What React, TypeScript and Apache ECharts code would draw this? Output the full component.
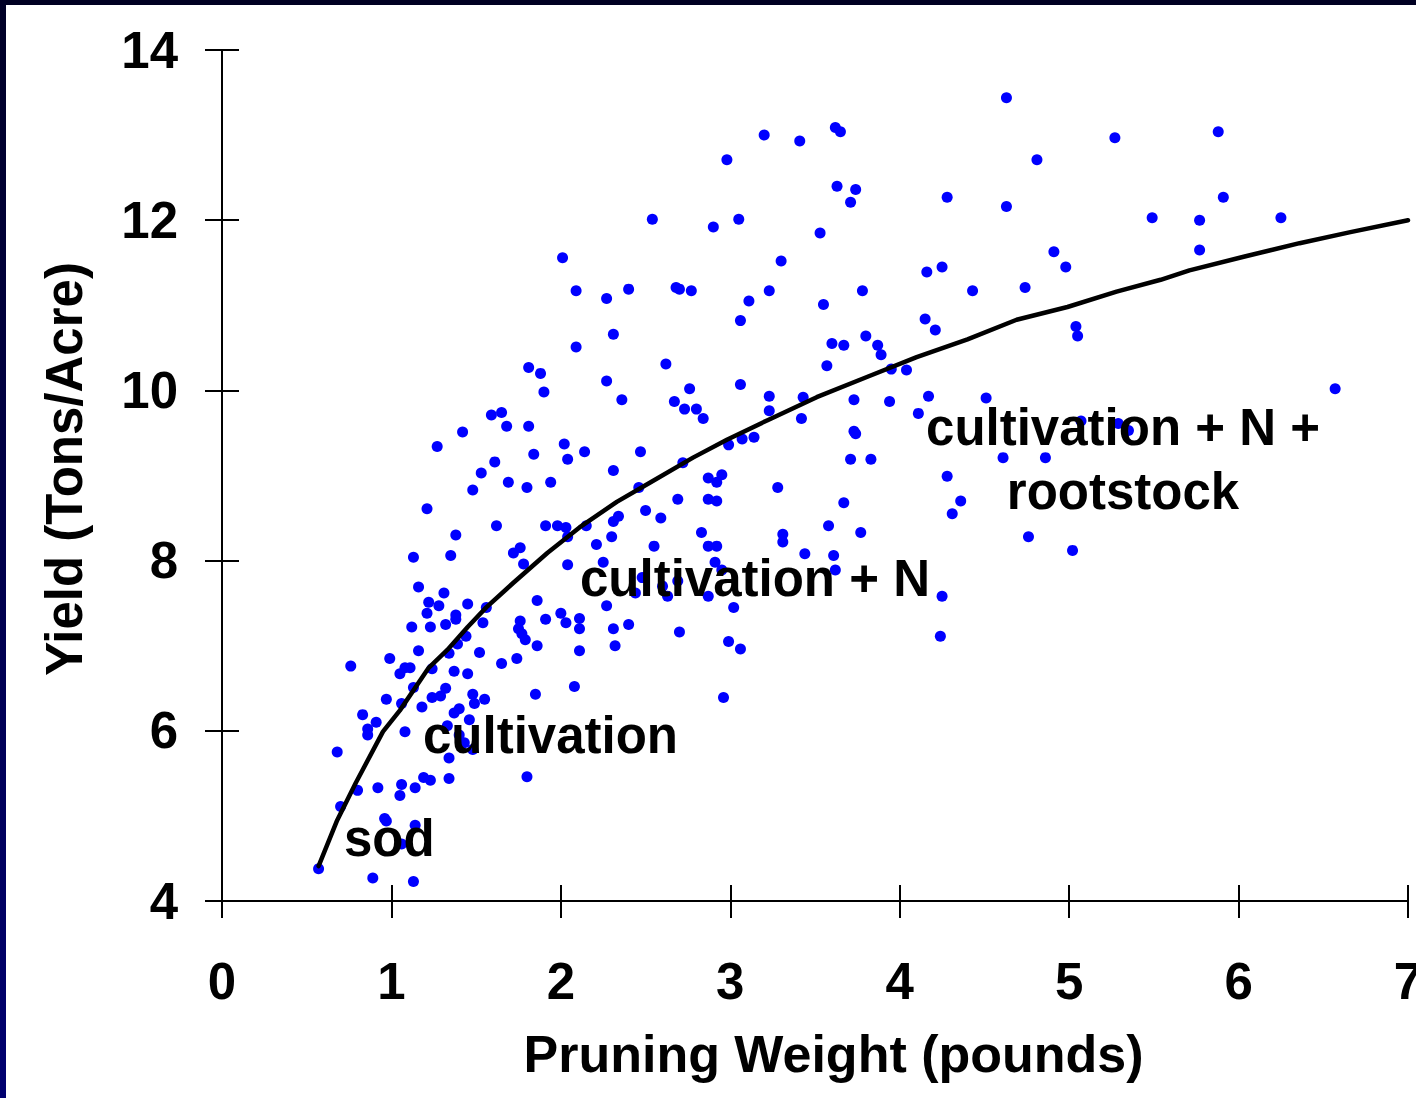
import React, { useEffect, useRef } from "react";
import * as echarts from "echarts";

// Scatter observations (pruning weight in pounds, yield in tons/acre)
const pruningWeight = [
  1.16, 1.31, 1.22, 1.28, 1.21, 1.45, 1.56, 1.38, 1.38, 1.32, 1.23, 1.12, 1.54, 1.86, 1.91, 1.76, 1.75, 1.77, 1.79, 1.86,
  1.44, 1.39, 1.16, 1.34, 1.52, 0.99, 0.76, 1.08, 1.11, 1.05, 1.24, 1.37, 1.45, 1.65, 1.74, 1.13, 1.32, 1.29, 1.24, 0.97,
  1.06, 1.18, 1.48, 1.49, 1.55, 1.85, 0.83, 0.91, 0.86, 0.86, 1.08, 1.40, 1.37, 1.46, 1.33, 1.40, 1.43, 1.48, 0.68, 1.34,
  1.80, 1.19, 1.23, 1.34, 1.06, 1.05, 1.14, 0.92, 0.80, 0.70, 0.96, 0.97, 1.14, 1.06, 0.57, 0.89, 1.13,
  1.90, 1.59, 1.65, 1.68, 1.81, 1.42, 1.27, 1.84, 1.61, 1.53, 1.48, 1.69, 1.80, 1.94, 1.21, 1.62, 1.91, 1.38, 1.13, 1.35,
  1.72, 1.76, 1.78,
  2.54, 2.01, 2.09, 2.27, 2.40, 2.68, 2.70, 2.77, 3.11, 3.06, 2.31, 2.09, 2.62, 1.81, 1.88, 2.27, 2.36, 2.76, 2.67, 2.73,
  2.80, 2.84, 3.06, 2.02, 2.14, 2.04, 2.47, 2.31, 2.72, 2.99, 3.07, 3.14, 2.87, 2.95,
  2.92, 2.46, 2.69, 2.87, 2.92, 2.50, 2.59, 2.34, 2.31, 1.98, 2.03, 2.04, 2.15, 2.30, 2.21, 2.55, 2.83, 2.87, 2.92, 2.04,
  2.25, 2.91, 2.95, 2.48, 2.60, 2.69, 2.44, 2.63, 2.87, 3.02, 2.27, 2.00, 2.03, 2.11, 2.11, 2.31, 2.40, 2.70, 2.32, 2.11,
  2.99, 3.06, 2.08, 2.96,
  3.20, 3.41, 3.62, 3.65, 2.98, 3.63, 3.74, 3.71, 4.28, 2.90, 3.05, 3.53, 3.30, 3.23, 3.55, 3.78, 4.16, 4.25, 4.15, 4.21,
  3.60, 3.67, 3.80, 3.87, 3.89,
  3.57, 3.95, 4.04, 3.23, 3.43, 3.73, 3.94, 4.17, 3.23, 3.42, 4.11, 3.73, 3.74, 3.71, 3.83, 4.28, 4.36, 4.31, 3.28, 3.67,
  3.58, 3.77, 3.31, 3.31, 3.44, 3.61, 3.62, 4.25, 4.24,
  4.63, 5.27, 4.81, 4.63, 5.49, 4.91, 4.98, 4.43, 4.74, 5.04, 5.05,
  4.51, 5.07, 5.29, 5.35, 4.61, 4.86, 4.76, 5.02,
  5.88, 5.91, 5.77, 6.25, 5.77, 6.57,
];

const yieldTons = [
  7.69, 7.62, 7.51, 7.47, 7.38, 7.49, 7.45, 7.36, 7.31, 7.25, 7.22, 7.22, 7.27, 7.53, 7.31, 7.29, 7.20, 7.14, 7.07, 7.00,
  7.11, 7.02, 6.94, 6.91, 6.92, 6.85, 6.76, 6.74, 6.74, 6.67, 6.73, 6.70, 6.67, 6.79, 6.85, 6.51, 6.50, 6.41, 6.39, 6.37,
  6.32, 6.28, 6.43, 6.32, 6.37, 6.43, 6.19, 6.10, 6.02, 5.95, 5.99, 6.26, 6.21, 6.13, 6.06, 5.95, 5.86, 5.78, 5.75, 5.68,
  5.46, 5.45, 5.42, 5.44, 5.37, 5.24, 5.33, 5.33, 5.30, 5.11, 4.97, 4.94, 4.89, 4.67, 4.38, 4.27, 4.23,
  9.98, 9.71, 9.74, 9.58, 9.58, 9.51, 9.34, 9.25, 9.16, 9.03, 8.83, 8.92, 8.86, 8.92, 8.61, 8.41, 8.41, 8.30, 8.04, 8.06,
  8.09, 8.15, 7.96,
  12.01, 11.56, 11.17, 11.08, 11.19, 11.21, 11.19, 11.17, 11.05, 10.82, 10.66, 10.51, 10.31, 10.27, 10.20, 10.11, 9.89,
  10.02, 9.87, 9.78, 9.78, 9.67, 10.07, 9.37, 9.28, 9.19, 9.28, 9.06, 9.15, 9.36, 9.43, 9.45, 8.97, 9.01,
  8.92, 8.86, 8.72, 8.72, 8.70, 8.59, 8.50, 8.52, 8.46, 8.41, 8.39, 8.28, 8.41, 8.28, 8.19, 8.17, 8.33, 8.17, 8.17, 7.95,
  7.98, 7.98, 7.89, 7.80, 7.70, 7.76, 7.62, 7.58, 7.58, 7.45, 7.47, 7.38, 7.27, 7.32, 7.20, 7.20, 7.25, 7.16, 7.00, 6.94,
  7.05, 6.96, 6.52, 6.39,
  13.00, 12.93, 13.09, 13.04, 12.71, 12.40, 12.36, 12.21, 12.27, 11.92, 12.01, 11.85, 11.52, 11.17, 11.01, 11.17, 11.39,
  11.45, 10.84, 10.71, 10.55, 10.53, 10.64, 10.53, 10.42,
  10.29, 10.25, 10.24, 9.93, 9.92, 9.89, 9.87, 9.93, 9.76, 9.67, 9.73, 9.52, 9.49, 9.19, 9.19, 8.99, 8.70, 8.55, 8.86,
  8.68, 8.41, 8.33, 8.31, 8.22, 8.08, 8.06, 7.89, 7.58, 7.11,
  13.44, 12.97, 12.71, 12.16, 12.03, 11.63, 11.45, 11.17, 11.21, 10.75, 10.64,
  9.91, 9.64, 9.61, 9.53, 9.21, 9.21, 8.28, 8.12,
  13.04, 12.27, 12.00, 12.03, 11.65, 10.02,
];

// Fitted curve
const curveWeight = [
  0.57, 0.68, 0.79, 0.95, 1.05, 1.22, 1.33, 1.45, 1.56, 1.72, 1.92, 2.11, 2.33, 2.53, 2.78, 2.98, 3.22, 3.51, 3.81, 4.1,
  4.4, 4.69, 4.99, 5.28, 5.54, 5.71, 6.03, 6.36, 6.66, 7.0,
];
const curveYield = [
  4.41, 4.95, 5.39, 5.99, 6.24, 6.74, 6.95, 7.22, 7.45, 7.74, 8.09, 8.39, 8.69, 8.92, 9.21, 9.42, 9.65, 9.92, 10.16,
  10.39, 10.6, 10.83, 10.98, 11.16, 11.3, 11.41, 11.57, 11.73, 11.86, 12.0,
];

const xTitle = "Pruning Weight (pounds)";
const yTitle = "Yield (Tons/Acre)";
const annotations = ["sod", "cultivation", "cultivation + N", "cultivation + N +\nrootstock"];

const FONT = "'Liberation Sans', Arial, Helvetica, sans-serif";
const FS = 51;

export default function App() {
  const ref = useRef<HTMLDivElement>(null);

  useEffect(() => {
    document.body.style.margin = "0";
    if (!ref.current) return;
    const chart = echarts.init(ref.current, null, { renderer: "svg" });

    const scatterData = pruningWeight.map((x, i) => [x, yieldTons[i]]);
    const curveData = curveWeight.map((x, i) => [x, curveYield[i]]);

    const labelStyle = { color: "#000", fontFamily: FONT, fontWeight: "bold" as const, fontSize: FS };

    const annText = (text: string, x: number, y: number, align: string) => ({
      type: "text",
      x,
      y,
      z: 100,
      style: {
        text,
        fill: "#000",
        font: `bold ${FS}px ${FONT}`,
        align,
        verticalAlign: "middle",
        lineHeight: 64,
      },
    });

    chart.setOption({
      animation: false,
      backgroundColor: "#ffffff",
      grid: { left: 222, right: 8, top: 50, bottom: 197, containLabel: false, outerBoundsMode: "none" },
      xAxis: [
        {
          type: "value",
          min: 0,
          max: 7,
          interval: 1,
          position: "bottom",
          name: xTitle,
          nameLocation: "middle",
          nameGap: 127,
          nameTextStyle: { ...labelStyle, fontSize: 52, padding: [0, 0, 0, 37] },
          axisLine: { show: true, onZero: false, lineStyle: { color: "#000", width: 2 } },
          axisTick: { show: true, inside: false, length: 17, lineStyle: { color: "#000", width: 2 } },
          axisLabel: { ...labelStyle, margin: 55, showMaxLabel: true },
          splitLine: { show: false },
        },
        {
          type: "value",
          min: 0,
          max: 7,
          interval: 1,
          position: "bottom",
          axisLine: { show: false },
          axisTick: { show: true, inside: true, length: 16, lineStyle: { color: "#000", width: 2 } },
          axisLabel: { show: false },
          splitLine: { show: false },
        },
      ],
      yAxis: [
        {
          type: "value",
          min: 4,
          max: 14,
          interval: 2,
          position: "left",
          name: yTitle,
          nameLocation: "middle",
          nameRotate: 90,
          nameGap: 132,
          nameTextStyle: { ...labelStyle, padding: [0, 0, 0, 13] },
          axisLine: { show: true, onZero: false, lineStyle: { color: "#000", width: 2 } },
          axisTick: { show: true, inside: false, length: 17, lineStyle: { color: "#000", width: 2 } },
          axisLabel: { ...labelStyle, margin: 44 },
          splitLine: { show: false },
        },
        {
          type: "value",
          min: 4,
          max: 14,
          interval: 2,
          position: "left",
          axisLine: { show: false },
          axisTick: { show: true, inside: true, length: 17, lineStyle: { color: "#000", width: 2 } },
          axisLabel: { show: false },
          splitLine: { show: false },
        },
      ],
      series: [
        {
          type: "scatter",
          xAxisIndex: 0,
          yAxisIndex: 0,
          data: scatterData,
          symbol: "circle",
          symbolSize: 11,
          itemStyle: { color: "#0000ff", opacity: 1 },
          z: 2,
        },
        {
          type: "line",
          xAxisIndex: 0,
          yAxisIndex: 0,
          data: curveData,
          showSymbol: false,
          symbol: "none",
          smooth: false,
          lineStyle: { color: "#000", width: 4.5, join: "round", cap: "round" },
          z: 3,
        },
      ],
      graphic: [
        {
          type: "rect",
          z: 200,
          shape: { x: 0, y: 0, width: 1416, height: 5 },
          style: { fill: "#000022" },
        },
        {
          type: "rect",
          z: 200,
          shape: { x: 0, y: 0, width: 6, height: 1098 },
          style: {
            fill: new echarts.graphic.LinearGradient(0, 0, 0, 1, [
              { offset: 0, color: "#000026" },
              { offset: 1, color: "#000070" },
            ]),
          },
        },
        annText(annotations[0], 344, 838, "left"),
        annText(annotations[1], 423, 735, "left"),
        annText(annotations[2], 580, 578, "left"),
        annText(annotations[3], 1123, 459, "center"),
      ],
    });

    return () => chart.dispose();
  }, []);

  return <div ref={ref} style={{ width: 1416, height: 1098, position: "absolute", left: 0, top: 0 }} />;
}
